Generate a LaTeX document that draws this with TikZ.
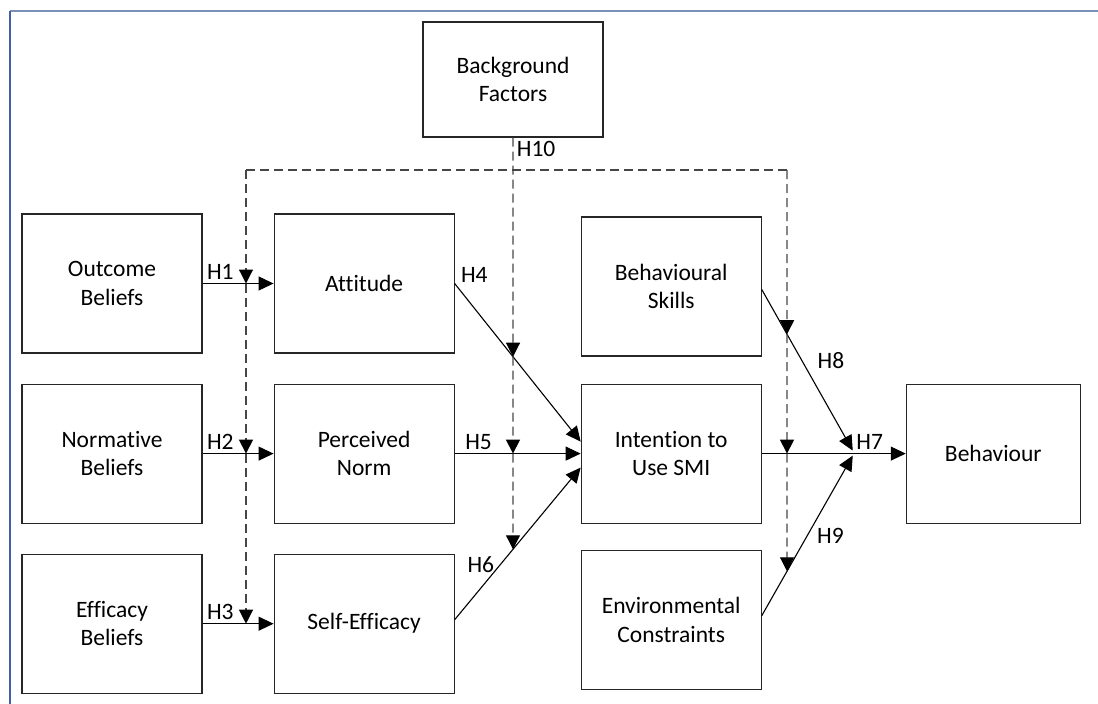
\documentclass[tikz,border=0pt]{standalone}
\usepackage{fontspec}
\setmainfont{Carlito}[Ligatures=NoCommon]
\usetikzlibrary{positioning,arrows.meta,calc}
\definecolor{frametop}{RGB}{122,144,184}
\definecolor{frameleft}{RGB}{64,96,172}
\definecolor{modgray}{RGB}{70,70,70}

\begin{document}
\begin{tikzpicture}[x=1pt,y=-1pt,>={Triangle[length=15pt,width=14pt]},
   font=\fontsize{23.5}{28.5}\selectfont,
   box/.style={draw=black!85,line width=1.1pt,align=center,minimum width=180pt,minimum height=139pt},
   hyp/.style={->,line width=1.1pt},
   modline/.style={-{Triangle[length=14pt,width=14pt,color=black]},line width=1.2pt,draw=modgray,dash pattern=on 9pt off 5pt}]
  \useasboundingbox (0,0) rectangle (1098,704);
  \draw[frametop,line width=2pt] (10,11) -- (1098,11);
  \draw[frameleft,line width=1.3pt] (10,11) -- (10,704);

  \node[box] (ob) at (112,283.5) {Outcome\\Beliefs};
  \node[box] (nb) [below=30pt of ob] {Normative\\Beliefs};
  \node[box] (eb) [below=30pt of nb] {Efficacy\\Beliefs};
  \node[box] (att) [right=71pt of ob] {Attitude};
  \node[box] (pn) [right=71pt of nb] {Perceived\\Norm};
  \node[box] (se) [right=71pt of eb] {Self-Efficacy};
  \node[box] (int) [right=126pt of pn] {Intention to\\Use SMI};
  \node[box] (bs) [above=27pt of int] {Behavioural\\Skills};
  \node[box] (env) [below=26pt of int] {Environmental\\Constraints};
  \node[box,minimum width=174pt] (beh) [right=144pt of int] {Behaviour};
  \node[box,minimum height=115pt] (bf) at (513,79.5) {Background\\Factors};

  \coordinate (h4s) at (att.east);
  \coordinate (h4e) at ([yshift=12pt]int.west);
  \coordinate (h6s) at ([yshift=4pt]se.east);
  \coordinate (h6e) at ([yshift=-14pt]int.west);
  \coordinate (meet) at ([xshift=-53pt]beh.west);
  \coordinate (h8s) at ([yshift=-3pt]bs.east);
  \coordinate (h8e) at ([yshift=3pt]meet);
  \coordinate (h9s) at ([yshift=4pt]env.east);
  \coordinate (h9e) at ([yshift=-2pt]meet);

  \draw[hyp] (ob) -- node[pos=.25,above]{H1} (att);
  \draw[hyp] (nb) -- node[pos=.25,above]{H2} (pn);
  \draw[hyp] (eb) -- node[pos=.25,above]{H3} (se);
  \draw[hyp] (h4s) -- node[pos=.02,above right]{H4} (h4e);
  \draw[hyp] (pn) -- node[pos=.19,above]{H5} (int);
  \draw[hyp] (h6s) -- node[pos=.36,left=2pt]{H6} (h6e);
  \draw[hyp] (int) -- node[pos=.75,above]{H7} (beh);
  \draw[hyp] (h8s) -- node[pos=.44,right=12pt]{H8} (h8e);
  \draw[hyp] (h9s) -- node[pos=.5,right=6pt]{H9} (h9e);

  \coordinate (lt) at (246,170);
  \coordinate (rt) at (787,170);
  \coordinate (mx) at (bf.south |- int.west);
  \coordinate (rx) at (rt |- int.east);
  \coordinate (x4) at (intersection of bf.south--mx and h4s--h4e);
  \coordinate (x6) at (intersection of bf.south--mx and h6s--h6e);
  \coordinate (x8) at (intersection of rt--rx and h8s--h8e);
  \coordinate (x9) at (intersection of rt--rx and h9s--h9e);

  \draw[modline,-] (lt) -- (rt);
  \draw[modline] (bf) -- node[pos=.05,right]{H10} (x4);
  \draw[modline] (x4) -- (mx);
  \draw[modline] (mx) -- (x6);
  \draw[modline] (lt) -- (lt |- ob.east);
  \draw[modline] (lt |- ob.east) -- (lt |- nb.east);
  \draw[modline] (lt |- nb.east) -- (lt |- eb.east);
  \draw[modline] (rt) -- (x8);
  \draw[modline] (x8) -- (rx);
  \draw[modline] (rx) -- (x9);
\end{tikzpicture}
\end{document}
